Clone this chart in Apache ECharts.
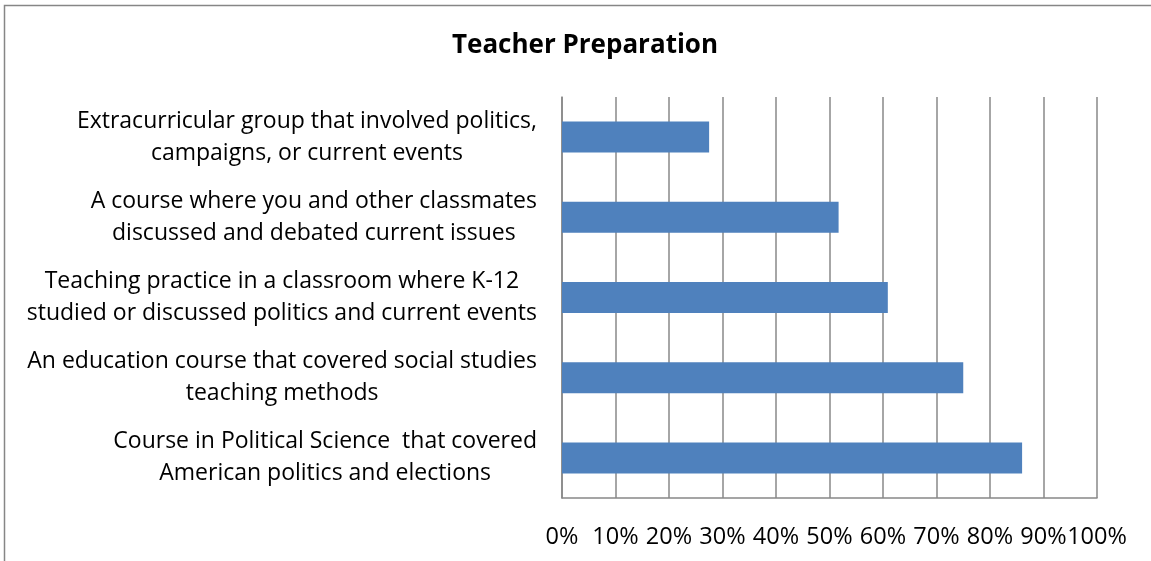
<!DOCTYPE html>
<html>
<head>
<meta charset="utf-8">
<script src="https://cdn.jsdelivr.net/npm/echarts@6/dist/echarts.min.js"></script>
<style>
  html, body { margin: 0; padding: 0; background: #fff; }
  #chart { width: 1151px; height: 561px; }
</style>
</head>
<body>
<div id="chart"></div>
<script>
  // categories, top to bottom
  const categories = [
    'Extracurricular group that involved politics,\ncampaigns, or current events',
    'A course where you and other classmates\ndiscussed and debated current issues',
    'Teaching practice in a classroom where K-12\nstudied or discussed politics and current events',
    'An education course that covered social studies\nteaching methods',
    'Course in Political Science  that covered\nAmerican politics and elections',
  ];
  // share of teachers (%)
  const values = [27.5, 51.7, 60.9, 75.0, 86.0];

  const fontFamily = '"Open Sans", sans-serif';
  const chart = echarts.init(document.getElementById('chart'));

  chart.setOption({
    animation: false,
    title: {
      text: 'Teacher Preparation',
      left: 580,
      top: 28,
      textAlign: 'center',
      textStyle: { fontFamily, fontSize: 26, fontWeight: 'bold', color: '#000' },
    },
    graphic: [
      {
        type: 'rect',
        shape: { x: 4.5, y: 5.5, width: 1400, height: 800 },
        style: { fill: 'none', stroke: '#868686', lineWidth: 1.5 },
        silent: true,
      },
    ],
    grid: { left: 562, right: 54, top: 97, bottom: 63 },
    xAxis: {
      type: 'value',
      min: 0,
      max: 100,
      interval: 10,
      axisLine: { show: true, lineStyle: { color: '#888', width: 1.5 } },
      axisTick: { show: false },
      splitLine: { show: true, lineStyle: { color: '#888', width: 1.5 } },
      axisLabel: {
        formatter: '{value}%',
        margin: 27,
        fontFamily,
        fontSize: 23.5,
        color: '#000',
      },
    },
    yAxis: {
      type: 'category',
      inverse: true,
      data: categories,
      axisLine: { show: true, lineStyle: { color: '#888', width: 1.5 } },
      axisTick: { show: false },
      axisLabel: {
        margin: 25,
        align: 'right',
        formatter: (v) => v.split('\n').map((l) => '{c|' + l + '}').join('\n'),
        rich: {
          c: { align: 'center', fontFamily, fontSize: 23, lineHeight: 32, color: '#000' },
        },
      },
    },
    series: [
      {
        type: 'bar',
        data: values,
        barWidth: 31,
        itemStyle: { color: '#4F81BD' },
      },
    ],
  });
</script>
</body>
</html>
